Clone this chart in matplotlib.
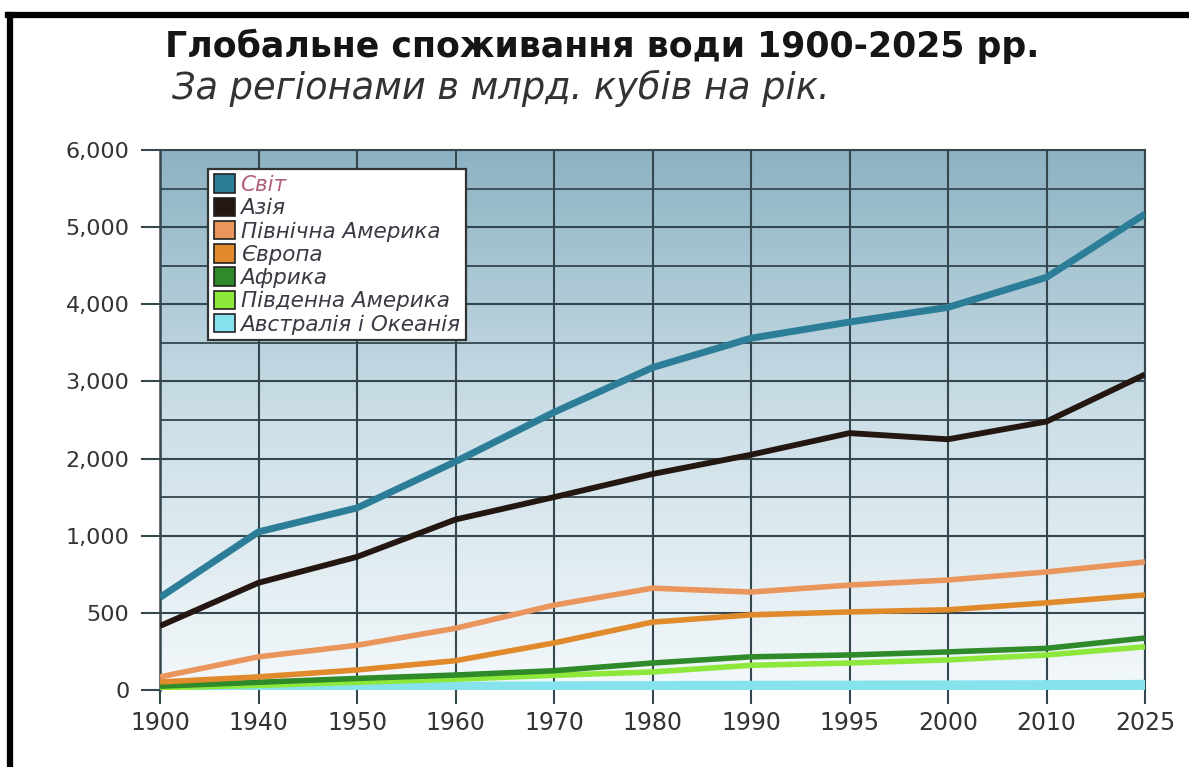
# Global water consumption by region, 1900-2025
import numpy as np
import matplotlib
matplotlib.use('Agg')
import matplotlib.pyplot as plt
from matplotlib.colors import LinearSegmentedColormap
from matplotlib.patches import Patch
from matplotlib.lines import Line2D

plt.rcParams['font.family'] = ['DejaVu Sans']

# data (km3 per year)
years = ['1900', '1940', '1950', '1960', '1970', '1980', '1990', '1995', '2000', '2010', '2025']
world = [600, 1050, 1360, 1960, 2600, 3180, 3560, 3770, 3960, 4350, 5170]
asia = [415, 695, 863, 1210, 1500, 1800, 2050, 2330, 2250, 2480, 3090]
north_america = [85, 215, 290, 400, 550, 660, 635, 680, 713, 765, 830]
europe = [52, 85, 130, 190, 305, 440, 487, 506, 520, 565, 616]
africa = [25, 50, 75, 97, 125, 175, 215, 227, 247, 270, 337]
south_america = [15, 30, 50, 70, 95, 117, 160, 175, 195, 227, 280]
oceania = [8, 12, 15, 18, 20, 22, 24, 25, 26, 28, 30]

names = ['Світ', 'Азія', 'Північна Америка', 'Європа', 'Африка',
         'Південна Америка', 'Австралія і Океанія']
colors = ['#2b7d98', '#241610', '#e9955c', '#e08a2c', '#2f8a2a', '#8ee83c', '#86e3ee']
widths = [5, 4.2, 4, 4, 4, 4, 8]
series = [world, asia, north_america, europe, africa, south_america, oceania]

y_ticks = [0, 500, 1000, 2000, 3000, 4000, 5000, 6000]
y_minor = [1500, 2500, 3500, 4500, 5500]


# y axis: 0-1000 in steps of 500, then steps of 1000, equally spaced
def fwd(v):
    v = np.asarray(v, dtype=float)
    return np.where(v <= 1000, v / 500.0, 2 + (v - 1000) / 1000.0)


def inv(p):
    p = np.asarray(p, dtype=float)
    return np.where(p <= 2, p * 500.0, 1000 + (p - 2) * 1000.0)


fig = plt.figure(figsize=(11.89, 7.67), dpi=100)
ax = fig.add_axes([160 / 1189, 1 - 690 / 767, 985 / 1189, 540 / 767])
ax.set_yscale('function', functions=(fwd, inv))

x = np.arange(len(years))

# background gradient, darker at the top
cmap = LinearSegmentedColormap.from_list('bg', ['#f3f8fb', '#cddfe7', '#8cb2c3'])
grad = np.linspace(0, 1, 256).reshape(-1, 1)
ax.imshow(grad, cmap=cmap, aspect='auto', origin='lower',
          extent=[0, 1, 0, 1], transform=ax.transAxes, zorder=0)

grid_col = '#34464e'
for i in [6, 5, 4, 3, 2, 1, 0]:
    ax.plot(x, series[i], color=colors[i], lw=widths[i], zorder=3 + (6 - i),
            solid_capstyle='butt', solid_joinstyle='round')

ax.set_xlim(0, len(years) - 1)
ax.set_ylim(0, 6000)
ax.set_xticks(x)
ax.set_xticklabels(years)
ax.set_yticks(y_ticks)
ax.set_yticklabels([f'{v:,}' for v in y_ticks])
ax.set_yticks(y_minor, minor=True)

ax.grid(True, which='major', color=grid_col, lw=1.5, zorder=1)
ax.grid(True, which='minor', axis='y', color=grid_col, lw=1.3, zorder=1)
for ln in ax.get_xgridlines() + ax.get_ygridlines():
    ln.set_zorder(1)

ax.tick_params(axis='y', which='major', direction='out', length=14, width=1.5,
               color=grid_col, labelsize=16, labelcolor='#333333', pad=8)
ax.tick_params(axis='y', which='minor', length=0)
ax.tick_params(axis='x', which='major', direction='out', length=10, width=1.5,
               color=grid_col, labelsize=17, labelcolor='#333333', pad=5)

for s in ['top', 'right']:
    ax.spines[s].set_color(grid_col)
    ax.spines[s].set_linewidth(1.5)
ax.spines['left'].set_color(grid_col)
ax.spines['left'].set_linewidth(1.8)
ax.spines['bottom'].set_visible(False)

# legend with square colour swatches
handles = [Patch(facecolor=c, edgecolor='#222222', lw=1.2) for c in colors]
leg = ax.legend(handles, names, loc='upper left', bbox_to_anchor=(0.049, 0.965),
                frameon=True, fancybox=False, framealpha=1, edgecolor='#333333',
                prop={'style': 'italic', 'size': 15.5}, handlelength=1.0,
                handleheight=0.95, handletextpad=0.25, labelspacing=0.12,
                borderpad=0.25, borderaxespad=0)
leg.get_frame().set_linewidth(1.6)
leg.set_zorder(10)
for t in leg.get_texts():
    t.set_color('#3a3a44')
leg.get_texts()[0].set_color('#b0607a')

# titles
fig.text(165 / 1189, 1 - 46 / 767, 'Глобальне споживання води 1900-2025 рр.',
         fontsize=25, fontweight='bold', color='#151515', va='center', ha='left')
fig.text(172 / 1189, 1 - 88 / 767, 'За регіонами в млрд. кубів на рік.',
         fontsize=26.5, style='italic', color='#333333', va='center', ha='left')

# outer frame (right and bottom edges fall outside the image)
fig.add_artist(Line2D([10 / 1189, 10 / 1189], [0, 1 - 15 / 767],
                      transform=fig.transFigure, color='black', lw=4.5))
fig.add_artist(Line2D([8 / 1189, 1], [1 - 15 / 767, 1 - 15 / 767],
                      transform=fig.transFigure, color='black', lw=4.5))

fig.savefig('out.png', dpi=100, facecolor='white')
